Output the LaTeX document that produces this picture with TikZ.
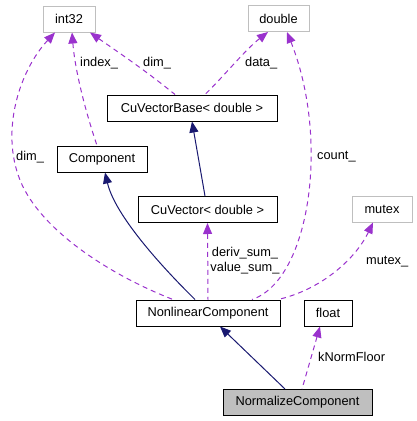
\documentclass[tikz,border=0pt]{standalone}
\usepackage{fontspec}
\setmainfont{Liberation Sans}
\usetikzlibrary{arrows.meta}
\definecolor{dpurple}{HTML}{9A32CD}
\definecolor{dnavy}{HTML}{191970}
\definecolor{lgray}{HTML}{BFBFBF}
\tikzset{
  cls/.style={draw=black, line width=1pt, inner sep=0pt, minimum height=26pt, font=\fontsize{12.8}{15}\selectfont},
  ext/.style={cls, draw=lgray},
  inh/.style={draw=dnavy, line width=1pt, {Triangle[length=11pt,width=9pt]}-, fill=none},
  use/.style={draw=dpurple, line width=1pt, dash pattern=on 5pt off 4pt, {Triangle[length=11pt,width=9pt]}-},
  lbl/.style={inner sep=0pt, font=\fontsize{12.8}{15}\selectfont},
}
\begin{document}
\begin{tikzpicture}[x=1pt,y=-1pt]
\useasboundingbox (0,0) rectangle (416,421);
\node[ext, minimum width=52pt] (int32) at (69,19) {int32};
\node[ext, minimum width=61pt] (double) at (278.5,18.5) {double};
\node[cls, minimum width=170pt] (cvb) at (192,108) {CuVectorBase< double >};
\node[cls, minimum width=90pt] (comp) at (102,159) {Component};
\node[cls, minimum width=139pt] (cv) at (207.5,209.5) {CuVector< double >};
\node[ext, minimum width=60pt] (mutex) at (382,209) {mutex};
\node[cls, minimum width=144pt] (nlc) at (208,313) {NonlinearComponent};
\node[cls, minimum width=48pt] (float) at (328,313) {float};
\node[cls, minimum width=149pt, fill=lgray] (norm) at (297.5,402.5) {NormalizeComponent};

% inheritance
\draw[inh] ([xshift=3pt]comp.south) .. controls (115,215) and (160,265) .. ([xshift=-13pt]nlc.north);
\draw[inh] (cvb.south) -- ([xshift=-2.5pt]cv.north);
\draw[inh] ([xshift=12pt]nlc.south) -- ([xshift=-12.5pt]norm.north);

% usage
\draw[use] ([xshift=-8pt]float.south) -- ([xshift=4.5pt]norm.north);
\draw[use] ([xshift=-9pt]mutex.south) .. controls (355,260) and (320,290) .. ([xshift=70pt]nlc.north);
\draw[use] ([xshift=8.5pt]double.south) .. controls (330,140) and (310,280) .. ([xshift=44pt]nlc.north);
\draw[use] (cv.south) -- (nlc.north);
\draw[use] ([xshift=-14pt]int32.south) .. controls (20,70) and (0,130) .. (20,180) .. controls (40,230) and (110,275) .. ([xshift=-35pt]nlc.north);
\draw[use] ([xshift=3pt]int32.south) .. controls (75,70) and (85,110) .. ([xshift=-5pt]comp.north);
\draw[use] ([xshift=21pt]int32.south) .. controls (115,50) and (145,70) .. ([xshift=-17pt]cvb.north);
\draw[use] ([xshift=-10.5pt]double.south) .. controls (245,50) and (225,75) .. ([xshift=13pt]cvb.north);

% labels
\node[lbl, anchor=west] (lindex) at (80,63) {index\_};
\node[lbl, anchor=west] (ldim1) at (143,63) {dim\_};
\node[lbl, anchor=west] (ldata) at (245,63) {data\_};
\node[lbl, anchor=west] (ldim2) at (16,157) {dim\_};
\node[lbl, anchor=west] (lcount) at (317,157) {count\_};
\node[lbl, align=center] (lsum) at (245,260.5) {deriv\_sum\_\\value\_sum\_};
\node[lbl, anchor=west] (lmutex) at (366,262) {mutex\_};
\node[lbl, anchor=west] (lknf) at (318,357) {kNormFloor};
\end{tikzpicture}
\end{document}
